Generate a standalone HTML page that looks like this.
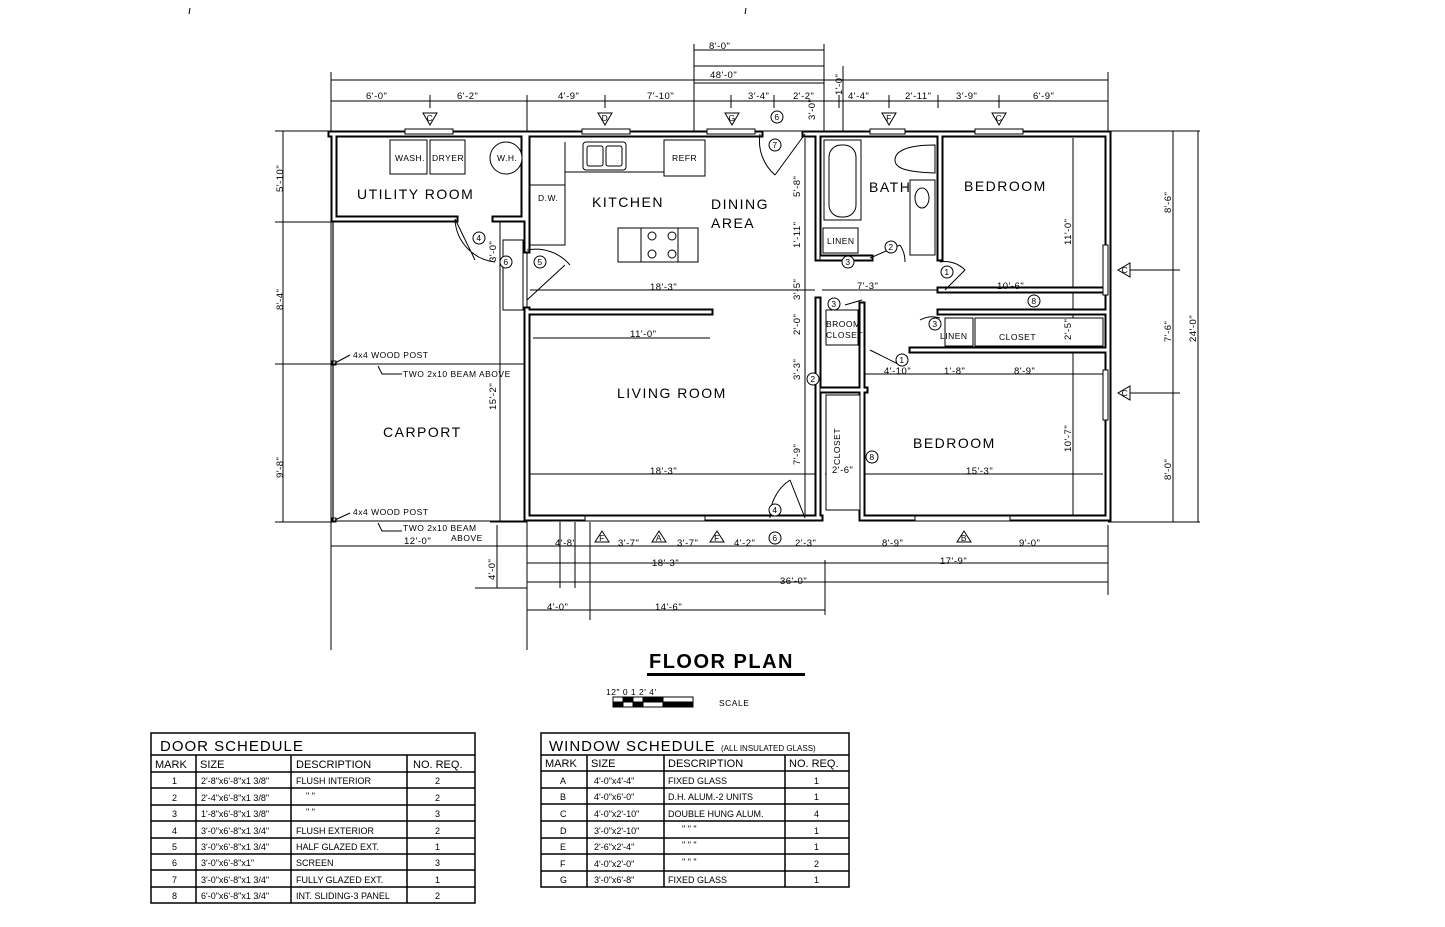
<!DOCTYPE html>
<html><head><meta charset="utf-8"><style>
html,body{margin:0;padding:0;background:#fff}
svg{display:block}
text{font-family:"Liberation Sans",sans-serif;fill:#000}
.d{font-size:9.5px;letter-spacing:0.5px}
.r{font-size:14px;letter-spacing:1.5px}
.s{font-size:8.5px;letter-spacing:0.5px}
.t{font-size:9px}
</style></head><body>
<svg width="1445" height="927" viewBox="0 0 1445 927" xmlns="http://www.w3.org/2000/svg">
<rect width="1445" height="927" fill="#fff"/>
<g stroke="#000" fill="none" stroke-width="1">
<line x1="190" y1="8" x2="189" y2="14"/><line x1="746" y1="8" x2="745" y2="14"/>
<!-- extension lines -->
<line x1="331" y1="72" x2="331" y2="650"/>
<line x1="527" y1="95" x2="527" y2="650"/>
<line x1="1108" y1="72" x2="1108" y2="131"/>
<line x1="825" y1="560" x2="825" y2="615"/>
<line x1="1108" y1="525" x2="1108" y2="595"/>
<!-- top dim lines -->
<line x1="331" y1="80" x2="1108" y2="80"/>
<line x1="331" y1="101" x2="1108" y2="101"/>
<rect x="694" y="66" width="130" height="65"/>
<line x1="694" y1="83" x2="824" y2="83"/>
<line x1="694" y1="50" x2="824" y2="50"/>
<line x1="694" y1="44" x2="694" y2="66"/><line x1="824" y1="44" x2="824" y2="66"/>
<line x1="843" y1="66" x2="843" y2="131"/>
<line x1="430" y1="95" x2="430" y2="108"/><line x1="605" y1="95" x2="605" y2="108"/><line x1="731" y1="95" x2="731" y2="108"/>
<line x1="774" y1="95" x2="774" y2="108"/><line x1="839" y1="95" x2="839" y2="108"/><line x1="889" y1="95" x2="889" y2="108"/>
<line x1="938" y1="95" x2="938" y2="108"/><line x1="999" y1="95" x2="999" y2="108"/>
<!-- bottom dim lines -->
<line x1="331" y1="546" x2="1108" y2="546"/>
<line x1="527" y1="563" x2="1108" y2="563"/>
<line x1="527" y1="582" x2="1108" y2="582"/>
<line x1="527" y1="610" x2="825" y2="610"/>
<line x1="490" y1="522" x2="527" y2="522"/>
<line x1="475" y1="588" x2="527" y2="588"/>
<line x1="497" y1="525" x2="497" y2="588"/>
<line x1="560" y1="522" x2="560" y2="588"/><line x1="575" y1="522" x2="575" y2="588"/><line x1="590" y1="522" x2="590" y2="620"/>
<!-- left dim lines -->
<line x1="283" y1="131" x2="283" y2="522"/>
<line x1="275" y1="131" x2="331" y2="131"/>
<line x1="275" y1="222" x2="331" y2="222"/>
<line x1="275" y1="364" x2="331" y2="364"/>
<line x1="275" y1="522" x2="331" y2="522"/>
<line x1="500" y1="222" x2="500" y2="522"/>
<line x1="331" y1="364" x2="527" y2="364"/>
<line x1="331" y1="521" x2="527" y2="521"/>
<path d="M378 366 L382 374 L402 374"/>
<path d="M378 523 L382 531 L402 531"/>
<path d="M335 363 L350 355"/><path d="M335 520 L350 513"/>
<rect x="332" y="361" width="4" height="4"/><rect x="332" y="518" width="4" height="4"/>
<!-- right dim lines -->
<line x1="1108" y1="131" x2="1200" y2="131"/>
<line x1="1108" y1="522" x2="1200" y2="522"/>
<line x1="1173" y1="131" x2="1173" y2="522"/>
<line x1="1198" y1="131" x2="1198" y2="522"/>
<line x1="1125" y1="270" x2="1180" y2="270"/>
<line x1="1125" y1="393" x2="1180" y2="393"/>
<!-- interior dim lines -->
<line x1="530" y1="290" x2="815" y2="290"/>
<line x1="530" y1="474" x2="815" y2="474"/>
<line x1="533" y1="338" x2="710" y2="338"/>
<line x1="805" y1="138" x2="805" y2="515"/>
<line x1="822" y1="290" x2="1103" y2="290"/>
<line x1="865" y1="374" x2="1103" y2="374"/>
<line x1="825" y1="474" x2="1103" y2="474"/>
<line x1="1073" y1="138" x2="1073" y2="515"/>
<line x1="333" y1="222" x2="333" y2="522" stroke-width="1.2"/>
</g>
<!-- walls: double lines -->
<g fill="none" stroke-linecap="square">
<g stroke="#000" stroke-width="7">
<path d="M331 134 H760 M805 134 H1108 V518 H862 M820 518 H760 M527 518 H760"/>
<path d="M334 134 V219 H455 M495 219 H524 V134"/>
<path d="M527 134 V250 M527 310 V518"/>
<path d="M530 312 H710"/>
<path d="M818 134 V258 M818 300 V518"/>
<path d="M940 134 V258"/>
<path d="M822 258 H870 M940 290 H1108"/>
<path d="M862 305 V518"/>
<path d="M912 350 H1106 M940 312 H975 M975 312 H1106"/>
<path d="M822 390 H865"/>
</g>
<g stroke="#fff" stroke-width="3">
<path d="M331 134 H760 M805 134 H1108 V518 H862 M820 518 H760 M527 518 H760"/>
<path d="M334 134 V219 H455 M495 219 H524 V134"/>
<path d="M527 134 V250 M527 310 V518"/>
<path d="M530 312 H710"/>
<path d="M818 134 V258 M818 300 V518"/>
<path d="M940 134 V258"/>
<path d="M822 258 H870 M940 290 H1108"/>
<path d="M862 305 V518"/>
<path d="M912 350 H1106 M940 312 H975 M975 312 H1106"/>
<path d="M822 390 H865"/>
</g>
</g>
<!-- fixtures & windows -->
<g stroke="#000" fill="#fff" stroke-width="1">
<rect x="405" y="129" width="48" height="5"/><rect x="582" y="129" width="48" height="5"/><rect x="707" y="129" width="48" height="5"/>
<rect x="870" y="129" width="35" height="5"/><rect x="975" y="129" width="48" height="5"/>
<rect x="585" y="516" width="120" height="5"/><rect x="915" y="516" width="95" height="5"/>
<rect x="1103" y="245" width="5" height="50"/><rect x="1103" y="370" width="5" height="50"/>
<rect x="390" y="140" width="37" height="34"/><rect x="430" y="140" width="35" height="34"/>
<circle cx="506" cy="158" r="16"/>
<rect x="583" y="142" width="43" height="28" rx="3"/><rect x="587" y="146" width="16" height="20" rx="2"/><rect x="606" y="146" width="16" height="20" rx="2"/>
<rect x="664" y="140" width="41" height="36"/>
<path d="M530 185 H565 V142 M565 172 H664" fill="none"/>
<path d="M530 245 H565 V172" fill="none"/>
<rect x="618" y="228" width="80" height="34"/>
<line x1="641" y1="228" x2="641" y2="262"/><line x1="678" y1="228" x2="678" y2="262"/>
<circle cx="652" cy="236" r="4"/><circle cx="672" cy="236" r="4"/><circle cx="652" cy="254" r="4"/><circle cx="672" cy="254" r="4"/>
<rect x="824" y="140" width="37" height="80"/><rect x="829" y="145" width="27" height="72" rx="12"/>
<rect x="823" y="228" width="35" height="25"/>
<rect x="910" y="180" width="25" height="75"/><ellipse cx="922" cy="198" rx="7" ry="10"/>
<path d="M935 145 C905 145 895 152 895 160 C895 168 905 172 935 173 Z"/>
<rect x="826" y="310" width="32" height="35"/>
<rect x="826" y="395" width="34" height="115"/>
<rect x="975" y="318" width="128" height="28"/>
<rect x="945" y="318" width="28" height="28"/>
<rect x="503" y="240" width="20" height="70"/>
</g>
<g stroke="#000" fill="none" stroke-width="1">
<path d="M455 219 L475 260 M455 219 A45 45 0 0 0 495 262" />
<path d="M527 300 L565 265 M570 265 A45 45 0 0 0 527 250"/>
<path d="M760 134 A45 45 0 0 0 775 175 M805 134 L775 175"/>
<path d="M770 518 A45 45 0 0 1 790 480 M805 518 L790 480"/>
<path d="M870 258 L900 245 M900 245 A30 30 0 0 1 905 262"/>
<path d="M940 262 A28 28 0 0 1 965 270 L945 290"/>
<path d="M870 350 L900 365 M920 320 A25 25 0 0 1 940 318"/>
<path d="M862 300 L845 305"/>
</g>
<g stroke="#000" fill="#fff" stroke-width="1">
<path d="M423 113 H437 L430 125 Z"/><path d="M598 113 H612 L605 125 Z"/><path d="M725 113 H739 L732 125 Z"/>
<path d="M882 113 H896 L889 125 Z"/><path d="M992 113 H1006 L999 125 Z"/>
<path d="M595 542 H609 L602 531 Z"/><path d="M652 542 H666 L659 531 Z"/><path d="M710 542 H724 L717 531 Z"/><path d="M957 542 H971 L964 531 Z"/>
<path d="M1130 263 V277 L1118 270 Z"/><path d="M1130 386 V400 L1118 393 Z"/>
</g>
<g stroke="#000" fill="#fff" stroke-width="1">
<circle cx="479" cy="238" r="6"/><circle cx="506" cy="262" r="6"/><circle cx="540" cy="262" r="6"/>
<circle cx="777" cy="117" r="6"/><circle cx="775" cy="145" r="6"/>
<circle cx="848" cy="262" r="6"/><circle cx="891" cy="247" r="6"/><circle cx="947" cy="272" r="6"/>
<circle cx="1034" cy="301" r="6"/><circle cx="834" cy="304" r="6"/><circle cx="935" cy="324" r="6"/>
<circle cx="902" cy="360" r="6"/><circle cx="813" cy="379" r="6"/><circle cx="872" cy="457" r="6"/>
<circle cx="775" cy="510" r="6"/><circle cx="775" cy="538" r="6"/>
</g>
<g class="s" font-size="8" text-anchor="middle">
<text x="430" y="121">C</text><text x="605" y="121">D</text><text x="732" y="121">G</text><text x="889" y="121">F</text><text x="999" y="121">C</text>
<text x="602" y="541">F</text><text x="659" y="541">A</text><text x="717" y="541">F</text><text x="964" y="541">B</text>
<text x="1125" y="273">C</text><text x="1125" y="396">C</text>
<text x="479" y="241">4</text><text x="506" y="265">6</text><text x="540" y="265">5</text>
<text x="777" y="120">6</text><text x="775" y="148">7</text><text x="848" y="265">3</text><text x="891" y="250">2</text>
<text x="947" y="275">1</text><text x="1034" y="304">8</text><text x="834" y="307">3</text><text x="935" y="327">3</text>
<text x="902" y="363">1</text><text x="813" y="382">2</text><text x="872" y="460">8</text><text x="775" y="513">4</text><text x="775" y="541">6</text>
</g>
<g class="r">
<text x="357" y="199">UTILITY ROOM</text>
<text x="592" y="207">KITCHEN</text>
<text x="711" y="209">DINING</text><text x="711" y="228">AREA</text>
<text x="869" y="192">BATH</text>
<text x="964" y="191">BEDROOM</text>
<text x="617" y="398">LIVING ROOM</text>
<text x="383" y="437">CARPORT</text>
<text x="913" y="448">BEDROOM</text>
</g>
<g class="s">
<text x="395" y="161">WASH.</text><text x="432" y="161">DRYER</text><text x="497" y="161">W.H.</text>
<text x="672" y="161">REFR</text><text x="538" y="201">D.W.</text>
<text x="827" y="244">LINEN</text>
<text x="826" y="327">BROOM</text><text x="826" y="338">CLOSET</text>
<text x="940" y="339">LINEN</text><text x="999" y="340">CLOSET</text>
<text transform="translate(840,465) rotate(-90)">CLOSET</text>
<text x="353" y="358">4x4 WOOD POST</text><text x="403" y="377">TWO 2x10 BEAM ABOVE</text>
<text x="353" y="515">4x4 WOOD POST</text><text x="403" y="531">TWO 2x10 BEAM</text><text x="451" y="541">ABOVE</text>
</g>
<g class="d">
<text x="709" y="49">8'-0"</text><text x="710" y="78">48'-0"</text>
<text x="366" y="99">6'-0"</text><text x="457" y="99">6'-2"</text><text x="558" y="99">4'-9"</text><text x="647" y="99">7'-10"</text>
<text x="748" y="99">3'-4"</text><text x="793" y="99">2'-2"</text><text x="848" y="99">4'-4"</text><text x="905" y="99">2'-11"</text>
<text x="956" y="99">3'-9"</text><text x="1033" y="99">6'-9"</text>
<text x="404" y="544">12'-0"</text><text x="555" y="546">4'-8"</text><text x="618" y="546">3'-7"</text><text x="677" y="546">3'-7"</text>
<text x="734" y="546">4'-2"</text><text x="795" y="546">2'-3"</text><text x="882" y="546">8'-9"</text><text x="1019" y="546">9'-0"</text>
<text x="652" y="566">18'-3"</text><text x="940" y="564">17'-9"</text><text x="780" y="584">36'-0"</text>
<text x="547" y="610">4'-0"</text><text x="655" y="610">14'-6"</text>
<text x="650" y="290">18'-3"</text><text x="630" y="337">11'-0"</text><text x="650" y="474">18'-3"</text>
<text x="857" y="289">7'-3"</text><text x="997" y="289">10'-6"</text>
<text x="884" y="374">4'-10"</text><text x="944" y="374">1'-8"</text><text x="1014" y="374">8'-9"</text>
<text x="832" y="473">2'-6"</text><text x="966" y="474">15'-3"</text>
</g>
<g class="d">
<text transform="translate(283,192) rotate(-90)">5'-10"</text>
<text transform="translate(283,310) rotate(-90)">8'-4"</text>
<text transform="translate(283,478) rotate(-90)">9'-8"</text>
<text transform="translate(495,580) rotate(-90)">4'-0"</text>
<text transform="translate(496,410) rotate(-90)">15'-2"</text>
<text transform="translate(496,262) rotate(-90)">3'-0"</text>
<text transform="translate(800,197) rotate(-90)">5'-8"</text>
<text transform="translate(800,248) rotate(-90)">1'-11"</text>
<text transform="translate(800,300) rotate(-90)">3'-5"</text>
<text transform="translate(800,335) rotate(-90)">2'-0"</text>
<text transform="translate(800,380) rotate(-90)">3'-3"</text>
<text transform="translate(800,465) rotate(-90)">7'-9"</text>
<text transform="translate(842,95) rotate(-90)">1'-0"</text>
<text transform="translate(815,120) rotate(-90)">3'-0"</text>
<text transform="translate(1071,245) rotate(-90)">11'-0"</text>
<text transform="translate(1071,340) rotate(-90)">2'-5"</text>
<text transform="translate(1071,452) rotate(-90)">10'-7"</text>
<text transform="translate(1171,213) rotate(-90)">8'-6"</text>
<text transform="translate(1171,342) rotate(-90)">7'-6"</text>
<text transform="translate(1171,480) rotate(-90)">8'-0"</text>
<text transform="translate(1196,342) rotate(-90)">24'-0"</text>
</g>
<text x="649" y="668" font-size="20" font-weight="bold" letter-spacing="1.5">FLOOR PLAN</text>
<rect x="647" y="673" width="158" height="3" fill="#000"/>
<g stroke="#000" fill="none" stroke-width="1">
<rect x="613" y="697" width="80" height="10"/>
<line x1="613" y1="702" x2="693" y2="702"/><line x1="623" y1="697" x2="623" y2="707"/><line x1="633" y1="697" x2="633" y2="707"/><line x1="643" y1="697" x2="643" y2="707"/><line x1="663" y1="697" x2="663" y2="707"/>
</g>
<g fill="#000"><rect x="623" y="697" width="10" height="5"/><rect x="633" y="702" width="10" height="5"/><rect x="643" y="697" width="20" height="5"/><rect x="663" y="702" width="30" height="5"/><rect x="613" y="702" width="10" height="5"/></g>
<text x="606" y="695" class="s">12" 0  1  2'     4'</text>
<text x="719" y="706" class="s" letter-spacing="1.5">SCALE</text>
<g stroke="#000" fill="none" stroke-width="1.5">
<rect x="151" y="733" width="324" height="170"/>
<line x1="151" y1="755" x2="475" y2="755"/><line x1="151" y1="772" x2="475" y2="772"/>
<line x1="151" y1="788" x2="475" y2="788"/><line x1="151" y1="805" x2="475" y2="805"/><line x1="151" y1="821" x2="475" y2="821"/>
<line x1="151" y1="838" x2="475" y2="838"/><line x1="151" y1="854" x2="475" y2="854"/><line x1="151" y1="870" x2="475" y2="870"/><line x1="151" y1="887" x2="475" y2="887"/>
<line x1="196" y1="755" x2="196" y2="903"/><line x1="291" y1="755" x2="291" y2="903"/><line x1="407" y1="755" x2="407" y2="903"/>
</g>
<text x="160" y="751" font-size="15" letter-spacing="1">DOOR SCHEDULE</text>
<g font-size="11"><text x="155" y="768">MARK</text><text x="200" y="768">SIZE</text><text x="296" y="768">DESCRIPTION</text><text x="413" y="768">NO. REQ.</text></g>
<g class="t">
<text x="172" y="784">1</text><text x="172" y="801">2</text><text x="172" y="817">3</text><text x="172" y="834">4</text><text x="172" y="850">5</text><text x="172" y="866">6</text><text x="172" y="883">7</text><text x="172" y="899">8</text>
<text x="201" y="784">2'-8"x6'-8"x1 3/8"</text><text x="201" y="801">2'-4"x6'-8"x1 3/8"</text><text x="201" y="817">1'-8"x6'-8"x1 3/8"</text>
<text x="201" y="834">3'-0"x6'-8"x1 3/4"</text><text x="201" y="850">3'-0"x6'-8"x1 3/4"</text><text x="201" y="866">3'-0"x6'-8"x1"</text>
<text x="201" y="883">3'-0"x6'-8"x1 3/4"</text><text x="201" y="899">6'-0"x6'-8"x1 3/4"</text>
<text x="296" y="784">FLUSH INTERIOR</text><text x="306" y="799">"        "</text><text x="306" y="815">"        "</text>
<text x="296" y="834">FLUSH EXTERIOR</text><text x="296" y="850">HALF GLAZED EXT.</text><text x="296" y="866">SCREEN</text>
<text x="296" y="883">FULLY GLAZED EXT.</text><text x="296" y="899">INT. SLIDING-3 PANEL</text>
<text x="435" y="784">2</text><text x="435" y="801">2</text><text x="435" y="817">3</text><text x="435" y="834">2</text><text x="435" y="850">1</text><text x="435" y="866">3</text><text x="435" y="883">1</text><text x="435" y="899">2</text>
</g>
<g stroke="#000" fill="none" stroke-width="1.5">
<rect x="541" y="733" width="308" height="154"/>
<line x1="541" y1="755" x2="849" y2="755"/><line x1="541" y1="771" x2="849" y2="771"/>
<line x1="541" y1="788" x2="849" y2="788"/><line x1="541" y1="804" x2="849" y2="804"/><line x1="541" y1="821" x2="849" y2="821"/>
<line x1="541" y1="838" x2="849" y2="838"/><line x1="541" y1="854" x2="849" y2="854"/><line x1="541" y1="871" x2="849" y2="871"/>
<line x1="587" y1="755" x2="587" y2="887"/><line x1="664" y1="755" x2="664" y2="887"/><line x1="785" y1="755" x2="785" y2="887"/>
</g>
<text x="549" y="751" font-size="15" letter-spacing="1">WINDOW SCHEDULE</text>
<text x="721" y="751" font-size="8">(ALL INSULATED GLASS)</text>
<g font-size="11"><text x="545" y="767">MARK</text><text x="591" y="767">SIZE</text><text x="668" y="767">DESCRIPTION</text><text x="789" y="767">NO. REQ.</text></g>
<g class="t">
<text x="560" y="784">A</text><text x="560" y="800">B</text><text x="560" y="817">C</text><text x="560" y="834">D</text><text x="560" y="850">E</text><text x="560" y="867">F</text><text x="560" y="883">G</text>
<text x="594" y="784">4'-0"x4'-4"</text><text x="594" y="800">4'-0"x6'-0"</text><text x="594" y="817">4'-0"x2'-10"</text><text x="594" y="834">3'-0"x2'-10"</text>
<text x="594" y="850">2'-6"x2'-4"</text><text x="594" y="867">4'-0"x2'-0"</text><text x="594" y="883">3'-0"x6'-8"</text>
<text x="668" y="784">FIXED GLASS</text><text x="668" y="800">D.H. ALUM.-2 UNITS</text><text x="668" y="817">DOUBLE HUNG ALUM.</text>
<text x="682" y="832">"        "        "</text><text x="682" y="848">"        "        "</text><text x="682" y="865">"        "        "</text>
<text x="668" y="883">FIXED GLASS</text>
<text x="814" y="784">1</text><text x="814" y="800">1</text><text x="814" y="817">4</text><text x="814" y="834">1</text><text x="814" y="850">1</text><text x="814" y="867">2</text><text x="814" y="883">1</text>
</g>
</svg>
</body></html>
